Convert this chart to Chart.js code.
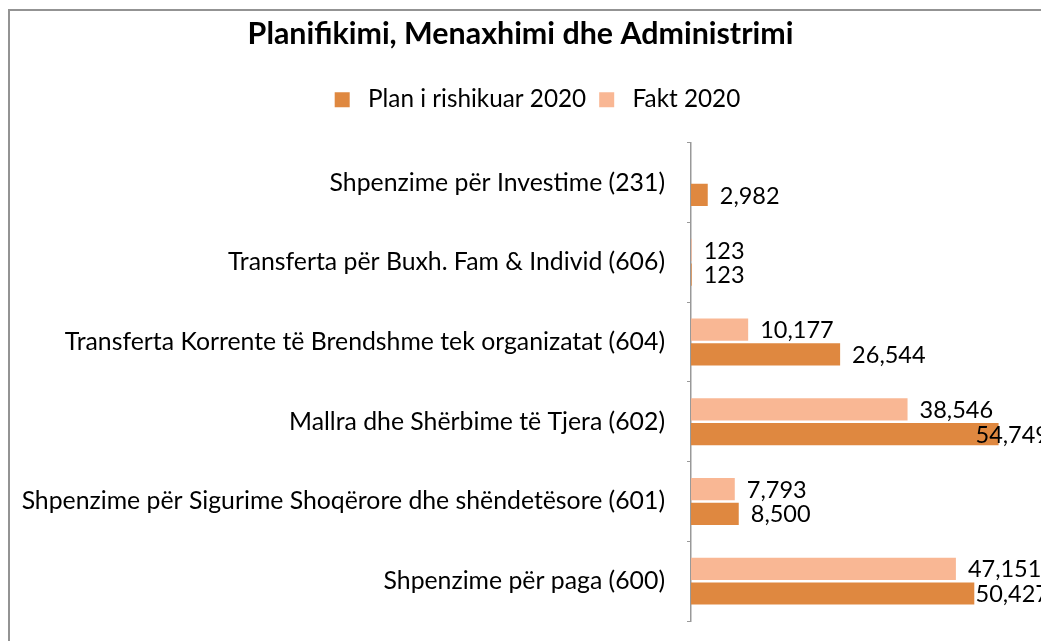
<!DOCTYPE html>
<html>
<head>
<meta charset="utf-8">
<script src="https://cdn.jsdelivr.net/npm/chart.js@4/dist/chart.umd.min.js"></script>
<style>
  html, body { margin: 0; padding: 0; background: #fff; overflow: hidden; }
  #frame {
    position: absolute; left: 8px; top: 9px; width: 1200px; height: 800px;
    border-left: 2px solid #939393; border-top: 2px solid #939393;
  }
  #chart-container { position: absolute; left: 0; top: 0; width: 1041px; height: 641px; }
</style>
</head>
<body>
<div id="frame"></div>
<div id="chart-container"><canvas id="chart"></canvas></div>
<script>
const categories = [
    "Shpenzime për Investime (231)",
    "Transferta për Buxh. Fam & Individ (606)",
    "Transferta Korrente të Brendshme tek organizatat (604)",
    "Mallra dhe Shërbime të Tjera (602)",
    "Shpenzime për Sigurime Shoqërore dhe shëndetësore (601)",
    "Shpenzime për paga (600)"
];
const planValues = [2982, 123, 26544, 54749, 8500, 50427];
const faktValues = [null, 123, 10177, 38546, 7793, 47151];
const seriesNames = ["Plan i rishikuar 2020", "Fakt 2020"];

const planColor = "#DF8840";
const faktColor = "#F9B794";
const fontFamily = "Lato, 'Noto Sans', sans-serif";

// value labels after each bar, pushed back inside when they run off the right edge
const valueLabels = {
    id: "valueLabels",
    afterDatasetsDraw(chart) {
        const ctx = chart.ctx;
        ctx.save();
        ctx.font = "23.5px " + fontFamily;
        ctx.fillStyle = "#000";
        ctx.textBaseline = "middle";
        ctx.textAlign = "left";
        chart.data.datasets.forEach((ds, i) => {
            const meta = chart.getDatasetMeta(i);
            meta.data.forEach((bar, j) => {
                const v = ds.data[j];
                if (v === null || v === undefined) return;
                const text = v.toLocaleString("en-US");
                const w = ctx.measureText(text).width;
                const x = Math.min(bar.x + 12, 1049 - w);
                ctx.fillText(text, x, bar.y + 1);
            });
        });
        ctx.restore();
    }
};

const legendSpacing = {
    id: "legendSpacing",
    beforeInit(chart) {
        const origFit = chart.legend.fit;
        chart.legend.fit = function () {
            origFit.call(this);
            this.height += 21;
        };
    },
    afterLayout(chart) {
        chart.legend.left += 17;
        chart.legend.right += 17;
    }
};

const ctx = document.getElementById("chart").getContext("2d");

new Chart(ctx, {
    type: "bar",
    data: {
        labels: categories,
        datasets: [
            {
                label: seriesNames[1],
                data: faktValues,
                backgroundColor: faktColor,
                barPercentage: 0.9,
                categoryPercentage: 0.62
            },
            {
                label: seriesNames[0],
                data: planValues,
                backgroundColor: planColor,
                barPercentage: 0.9,
                categoryPercentage: 0.62
            }
        ]
    },
    options: {
        indexAxis: "y",
        responsive: true,
        maintainAspectRatio: false,
        animation: false,
        layout: { padding: { left: 0, right: 0, top: 0, bottom: 20 } },
        plugins: {
            title: {
                display: true,
                text: "Planifikimi, Menaxhimi dhe Administrimi",
                color: "#000",
                font: { family: fontFamily, size: 30.4, weight: "bold" },
                padding: { top: 16, bottom: 22 }
            },
            legend: {
                reverse: true,
                labels: {
                    color: "#000",
                    font: { family: fontFamily, size: 24.3 },
                    boxWidth: 15,
                    boxHeight: 15,
                    padding: 13,
                    generateLabels(chart) {
                        const items = Chart.defaults.plugins.legend.labels.generateLabels(chart);
                        items.forEach(it => { it.text = " " + it.text; it.lineWidth = 0; });
                        return items;
                    }
                }
            },
            tooltip: { enabled: false }
        },
        scales: {
            x: {
                display: false,
                min: 0,
                max: 62300
            },
            y: {
                afterFit(scale) {
                    scale.width = 691;
                    scale.paddingTop = 0;
                    scale.paddingBottom = 0;
                },
                grid: {
                    offset: true,
                    drawOnChartArea: false,
                    tickLength: 4,
                    color: "#999"
                },
                border: { color: "#999", width: 1.5 },
                ticks: {
                    color: "#000",
                    font: { family: fontFamily, size: 24.8 },
                    padding: 22
                }
            }
        }
    },
    plugins: [valueLabels, legendSpacing]
});
</script>
</body>
</html>
